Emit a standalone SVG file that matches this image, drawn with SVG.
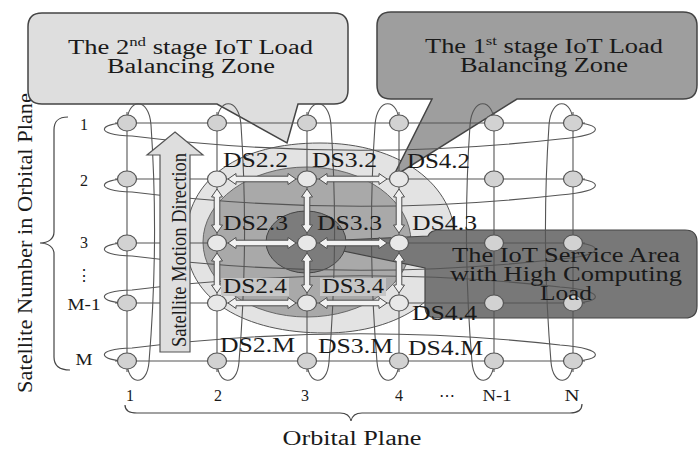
<svg xmlns="http://www.w3.org/2000/svg" xmlns:xlink="http://www.w3.org/1999/xlink" width="700" height="449" viewBox="0 0 700 449">
<style>
  text{font-family:"Liberation Serif","DejaVu Serif",serif;fill:#1a1a1a}
  .t22{font-size:22px}
  .t20{font-size:20.5px}
  .lab{font-size:16px}
  .grid{fill:none;stroke:#555;stroke-width:1.1}
  .node{fill:#d2d2d2;stroke:#555;stroke-width:1.2}
  .dnode{fill:#e8e8e8;stroke:#555;stroke-width:1.2}
  .arr{fill:#f2f2f2;stroke:#4e4e4e;stroke-width:1}
  .brace{fill:none;stroke:#444;stroke-width:1.2}
</style>
<defs>
  <path id="ah" d="M -34,0 L -26,-5.5 L -26,-2.8 L 26,-2.8 L 26,-5.5 L 34,0 L 26,5.5 L 26,2.8 L -26,2.8 L -26,5.5 Z"/>
  <path id="av1" d="M 0,-22 L -5.5,-14 L -2.8,-14 L -2.8,14 L -5.5,14 L 0,22 L 5.5,14 L 2.8,14 L 2.8,-14 L 5.5,-14 Z"/>
  <path id="av2" d="M 0,-20 L -5.5,-12 L -2.8,-12 L -2.8,12 L -5.5,12 L 0,20 L 5.5,12 L 2.8,12 L 2.8,-12 L 5.5,-12 Z"/>
</defs>
<rect width="700" height="449" fill="#ffffff"/>

<g id="axis-left">
  <text class="t22" transform="translate(32,243) rotate(-90)" text-anchor="middle" textLength="300" lengthAdjust="spacingAndGlyphs">Satellite Number in Orbital Plane</text>
  <path class="brace" d="M 68,117 C 58,117 54,121 54,130 L 54,232 C 54,239 48,243 40,243 C 48,243 54,247 54,254 L 54,357 C 54,366 60,370 70,370"/>
  <text class="lab" x="84" y="130" text-anchor="middle">1</text>
  <text class="lab" x="84" y="186" text-anchor="middle">2</text>
  <text class="lab" x="84" y="248" text-anchor="middle">3</text>
  <text class="lab" x="84" y="281" text-anchor="middle">⋮</text>
  <text class="lab" x="84" y="310" text-anchor="middle" textLength="33" lengthAdjust="spacingAndGlyphs">M-1</text>
  <text class="lab" x="84" y="365" text-anchor="middle" textLength="17" lengthAdjust="spacingAndGlyphs">M</text>
</g>

<g id="axis-bottom">
  <text class="lab" x="130" y="401" text-anchor="middle">1</text>
  <text class="lab" x="218" y="401" text-anchor="middle">2</text>
  <text class="lab" x="305" y="401" text-anchor="middle">3</text>
  <text class="lab" x="399" y="401" text-anchor="middle">4</text>
  <text class="lab" x="447" y="401" text-anchor="middle">⋯</text>
  <text class="lab" x="497" y="401" text-anchor="middle" textLength="29" lengthAdjust="spacingAndGlyphs">N-1</text>
  <text class="lab" x="572" y="401" text-anchor="middle" textLength="15" lengthAdjust="spacingAndGlyphs">N</text>
  <path class="brace" d="M 125,405 C 125,411 129,413 137,413 L 340,413 C 346,413 350,416 351,421 C 352,416 356,413 362,413 L 570,413 C 578,413 582,410 582,404"/>
  <text x="352" y="445" font-size="20" text-anchor="middle" textLength="139" lengthAdjust="spacingAndGlyphs">Orbital Plane</text>
</g>

<g id="zone-2nd">
  <path d="M 186,240 C 186,178 240,143 320,143 C 400,143 455,185 455,240 C 455,295 400,333 325,333 C 245,333 186,300 186,240 Z" fill="#e3e3e3" stroke="#555" stroke-width="1"/>
</g>
<g id="zone-1st">
  <ellipse cx="307" cy="242" rx="104" ry="75" fill="#a9a9a9" stroke="#666" stroke-width="1"/>
</g>

<g id="callout-service">
  <path d="M 440,230 H 685 Q 697,230 697,242 V 306 Q 697,318 685,318 H 437 Q 425,318 425,306 V 268 L 300,242 L 428,236 Q 430,230 440,230 Z" fill="#787878" stroke="#444" stroke-width="1.2"/>
</g>
<g id="zone-service">
  <ellipse cx="306" cy="242" rx="40" ry="31" fill="#7c7c7c" stroke="#444" stroke-width="1"/>
</g>

<g id="callout-2nd">
  <path d="M 42,13 H 334 Q 348,13 348,27 V 90 Q 348,104 334,104 H 298 L 287,143 L 217,104 H 42 Q 28,104 28,90 V 27 Q 28,13 42,13 Z" fill="#dedede" stroke="#444" stroke-width="1.5"/>
  <text class="t20" x="190.5" y="54" text-anchor="middle" textLength="245" lengthAdjust="spacingAndGlyphs">The 2<tspan dy="-8" font-size="13">nd</tspan><tspan dy="8"> stage IoT Load</tspan></text>
  <text class="t20" x="191" y="73" text-anchor="middle" textLength="168" lengthAdjust="spacingAndGlyphs">Balancing Zone</text>
</g>

<g id="callout-1st">
  <path d="M 391,12 H 683 Q 697,12 697,26 V 85 Q 697,99 683,99 H 517 L 393,177 L 432,99 H 391 Q 377,99 377,85 V 26 Q 377,12 391,12 Z" fill="#9e9e9e" stroke="#444" stroke-width="1.5"/>
  <text class="t20" x="544" y="53" text-anchor="middle" textLength="238" lengthAdjust="spacingAndGlyphs">The 1<tspan dy="-8" font-size="13">st</tspan><tspan dy="8"> stage IoT Load</tspan></text>
  <text class="t20" x="544" y="72" text-anchor="middle" textLength="168" lengthAdjust="spacingAndGlyphs">Balancing Zone</text>
</g>

<g id="connectors">
  <g class="grid">
    <line x1="115" y1="123" x2="585" y2="123"/>
    <line x1="115" y1="179" x2="585" y2="179"/>
    <line x1="115" y1="243" x2="585" y2="243"/>
    <line x1="115" y1="303" x2="585" y2="303"/>
    <line x1="115" y1="361" x2="585" y2="361"/>
    <path d="M 127,123 C 100,123 92,135 132,136 Q 350,163 560,139 C 610,135 600,123 573,123"/>
    <path d="M 127,179 C 100,179 92,191 132,192 Q 350,219 560,195 C 610,191 600,179 573,179"/>
    <path d="M 127,243 C 100,243 92,255 132,256 Q 350,283 560,259 C 610,255 600,243 573,243"/>
    <path d="M 127,303 C 100,303 92,291 132,290 Q 350,263 560,287 C 610,291 600,303 573,303"/>
    <path d="M 127,361 C 100,361 92,349 132,348 Q 350,321 560,345 C 610,349 600,361 573,361"/>
    <line x1="127" y1="112" x2="127" y2="372"/>
    <line x1="217" y1="112" x2="217" y2="372"/>
    <line x1="307" y1="112" x2="307" y2="372"/>
    <line x1="399" y1="112" x2="399" y2="372"/>
    <line x1="494" y1="112" x2="494" y2="372"/>
    <line x1="573" y1="112" x2="573" y2="372"/>
    <path d="M 127,123 C 127,98 149,96 151,125 Q 159,242 149,362 C 147,388 127,385 127,361"/>
    <path d="M 217,123 C 217,98 239,96 241,125 Q 249,242 239,362 C 237,388 217,385 217,361"/>
    <path d="M 307,123 C 307,98 329,96 331,125 Q 339,242 329,362 C 327,388 307,385 307,361"/>
    <path d="M 399,123 C 399,98 377,96 375,125 Q 367,242 377,362 C 379,388 399,385 399,361"/>
    <path d="M 494,123 C 494,98 472,96 470,125 Q 462,242 472,362 C 474,388 494,385 494,361"/>
    <path d="M 573,123 C 573,98 551,96 549,125 Q 541,242 551,362 C 553,388 573,385 573,361"/>
  </g>
  <g id="motion-arrow">
    <path d="M 175,132 L 203,155 L 190,155 L 190,352 L 160,352 L 160,155 L 147,155 Z" fill="#dedede" stroke="#555" stroke-width="1.2"/>
    <text transform="translate(186,250) rotate(-90)" font-size="20" text-anchor="middle" textLength="194" lengthAdjust="spacingAndGlyphs">Satellite Motion Direction</text>
  </g>
  <g class="arr">
    <use xlink:href="#ah" x="262" y="179"/>
    <use xlink:href="#ah" x="353" y="179"/>
    <use xlink:href="#ah" x="262" y="243"/>
    <use xlink:href="#ah" x="353" y="243"/>
    <use xlink:href="#ah" x="262" y="303"/>
    <use xlink:href="#ah" x="353" y="303"/>
    <use xlink:href="#av1" x="217" y="211"/>
    <use xlink:href="#av1" x="307" y="211"/>
    <use xlink:href="#av1" x="399" y="211"/>
    <use xlink:href="#av2" x="217" y="273"/>
    <use xlink:href="#av2" x="307" y="273"/>
    <use xlink:href="#av2" x="399" y="273"/>
  </g>
</g>

<g id="nodes">
  <g id="row1">
    <ellipse class="node" cx="127" cy="123" rx="9.5" ry="8"/><ellipse class="node" cx="217" cy="123" rx="9.5" ry="8"/><ellipse class="node" cx="307" cy="123" rx="9.5" ry="8"/><ellipse class="node" cx="399" cy="123" rx="9.5" ry="8"/><ellipse class="node" cx="494" cy="123" rx="9.5" ry="8"/><ellipse class="node" cx="573" cy="123" rx="9.5" ry="8"/>
  </g>
  <g id="row2">
    <ellipse class="node" cx="127" cy="179" rx="9.5" ry="8"/><ellipse class="dnode" cx="217" cy="179" rx="9.5" ry="8"/><ellipse class="dnode" cx="307" cy="179" rx="9.5" ry="8"/><ellipse class="dnode" cx="399" cy="179" rx="9.5" ry="8"/><ellipse class="node" cx="494" cy="179" rx="9.5" ry="8"/><ellipse class="node" cx="573" cy="179" rx="9.5" ry="8"/>
  </g>
  <g id="row3">
    <ellipse class="node" cx="127" cy="243" rx="9.5" ry="8"/><ellipse class="dnode" cx="217" cy="243" rx="9.5" ry="8"/><ellipse class="dnode" cx="307" cy="243" rx="9.5" ry="8"/><ellipse class="dnode" cx="399" cy="243" rx="9.5" ry="8"/><ellipse class="node" cx="494" cy="243" rx="9.5" ry="8"/><ellipse class="node" cx="573" cy="243" rx="9.5" ry="8"/>
  </g>
  <g id="rowM1">
    <ellipse class="node" cx="127" cy="303" rx="9.5" ry="8"/><ellipse class="dnode" cx="217" cy="303" rx="9.5" ry="8"/><ellipse class="dnode" cx="307" cy="303" rx="9.5" ry="8"/><ellipse class="dnode" cx="399" cy="303" rx="9.5" ry="8"/><ellipse class="node" cx="494" cy="303" rx="9.5" ry="8"/><ellipse class="node" cx="573" cy="303" rx="9.5" ry="8"/>
  </g>
  <g id="rowM">
    <ellipse class="node" cx="127" cy="361" rx="9.5" ry="8"/><ellipse class="node" cx="217" cy="361" rx="9.5" ry="8"/><ellipse class="node" cx="307" cy="361" rx="9.5" ry="8"/><ellipse class="node" cx="399" cy="361" rx="9.5" ry="8"/><ellipse class="node" cx="494" cy="361" rx="9.5" ry="8"/><ellipse class="node" cx="573" cy="361" rx="9.5" ry="8"/>
  </g>
</g>

<g id="service-text">
  <text class="t20" x="566" y="262" text-anchor="middle" textLength="228" lengthAdjust="spacingAndGlyphs">The IoT Service Area</text>
  <text class="t20" x="566" y="281" text-anchor="middle" textLength="232" lengthAdjust="spacingAndGlyphs">with High Computing</text>
  <text class="t20" x="566" y="300" text-anchor="middle" textLength="52" lengthAdjust="spacingAndGlyphs">Load</text>
</g>

<g id="ds-labels">
  <rect x="221" y="278" width="68" height="18" fill="#c6c6c6"/>
  <rect x="320" y="278" width="66" height="18" fill="#c6c6c6"/>
  <text class="t22" x="223" y="167" textLength="65" lengthAdjust="spacingAndGlyphs">DS2.2</text>
  <text class="t22" x="312" y="167" textLength="65" lengthAdjust="spacingAndGlyphs">DS3.2</text>
  <text class="t22" x="407" y="168" textLength="63" lengthAdjust="spacingAndGlyphs">DS4.2</text>
  <text class="t22" x="223" y="230" textLength="65" lengthAdjust="spacingAndGlyphs">DS2.3</text>
  <text class="t22" x="317" y="230" textLength="65" lengthAdjust="spacingAndGlyphs">DS3.3</text>
  <text class="t22" x="412" y="230" textLength="65" lengthAdjust="spacingAndGlyphs">DS4.3</text>
  <text class="t22" x="223" y="293" textLength="64" lengthAdjust="spacingAndGlyphs">DS2.4</text>
  <text class="t22" x="322" y="293" textLength="62" lengthAdjust="spacingAndGlyphs">DS3.4</text>
  <text class="t22" x="412" y="320" textLength="65" lengthAdjust="spacingAndGlyphs">DS4.4</text>
  <text class="t22" x="220" y="352" textLength="75" lengthAdjust="spacingAndGlyphs">DS2.M</text>
  <text class="t22" x="318" y="353" textLength="75" lengthAdjust="spacingAndGlyphs">DS3.M</text>
  <text class="t22" x="408" y="355" textLength="75" lengthAdjust="spacingAndGlyphs">DS4.M</text>
</g>
</svg>
